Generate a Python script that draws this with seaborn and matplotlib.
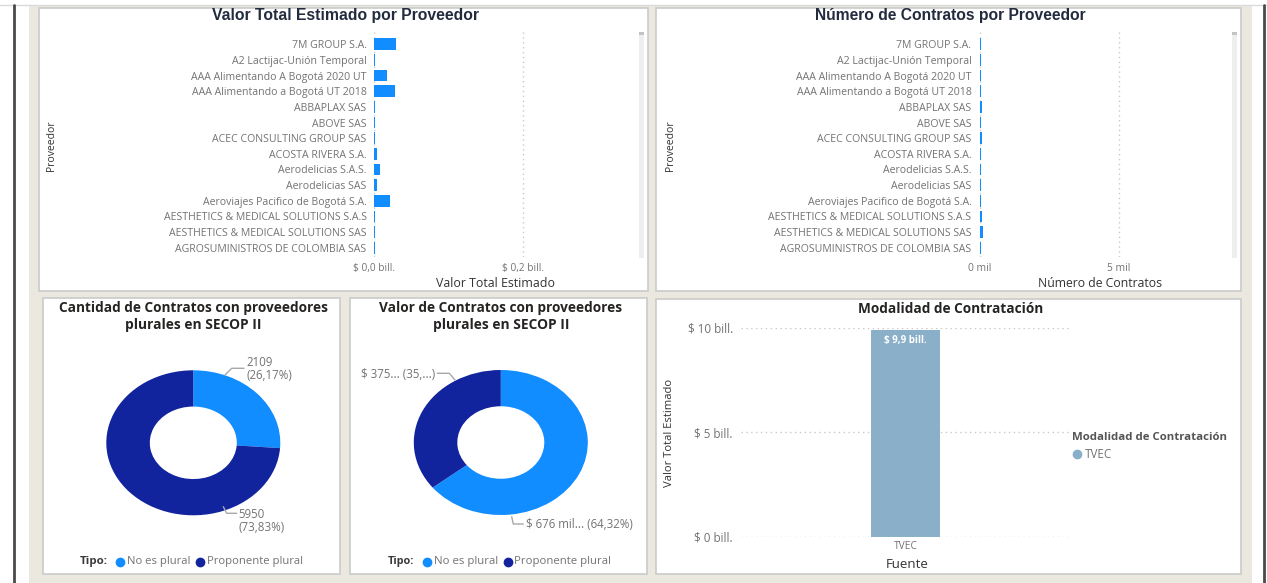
import matplotlib
matplotlib.use("Agg")
import matplotlib.pyplot as plt
from matplotlib.patches import Rectangle
from matplotlib.lines import Line2D
import seaborn as sns
import numpy as np

# ---------------- data ----------------
proveedores = [
    "7M GROUP S.A.", "A2 Lactijac-Unión Temporal", "AAA Alimentando A Bogotá 2020 UT",
    "AAA Alimentando a Bogotá UT 2018", "ABBAPLAX SAS", "ABOVE SAS",
    "ACEC CONSULTING GROUP SAS", "ACOSTA RIVERA S.A.", "Aerodelicias S.A.S.",
    "Aerodelicias SAS", "Aeroviajes Pacifico de Bogotá S.A.",
    "AESTHETICS & MEDICAL SOLUTIONS S.A.S", "AESTHETICS & MEDICAL SOLUTIONS SAS",
    "AGROSUMINISTROS DE COLOMBIA SAS",
]
valor_bill = [0.0292, 0.0012, 0.0176, 0.0288, 0.0014, 0.0012, 0.0013,
              0.0037, 0.0085, 0.0037, 0.0218, 0.0013, 0.0013, 0.0012]
num_contratos = [40, 40, 40, 45, 55, 45, 90, 40, 40, 40, 50, 75, 115, 40]

tipos = ["No es plural", "Proponente plural"]
cantidad_tipo = [2109, 5950]
valor_tipo_mil = [676, 375]
valor_tipo_labels = ["$ 676 mil... (64,32%)", "$ 375... (35,...)"]

modalidad = ["TVEC"]
modalidad_valor_bill = [9.9]

val_ticks = [0.0, 0.2]
val_ticklabels = ["$ 0,0 bill.", "$ 0,2 bill."]
num_ticks = [0, 5000]
num_ticklabels = ["0 mil", "5 mil"]
mod_ticks = [0, 5, 10]
mod_ticklabels = ["$ 0 bill.", "$ 5 bill.", "$ 10 bill."]

# ---------------- styling ----------------
BLUE = "#118DFF"
NAVY = "#12239E"
STEEL = "#89AFC9"
BEIGE = "#EBE8DF"
GRAY_TXT = "#737373"
DARK_TXT = "#333333"
TITLE_NAVY = "#232B3E"
SANS = ["Open Sans", "DejaVu Sans"]

sns.set_theme(style="white")
plt.rcParams["font.family"] = SANS

W, H = 1267, 583
fig = plt.figure(figsize=(W / 100, H / 100), dpi=100)
fig.patch.set_facecolor("white")
renderer = fig.canvas.get_renderer()


def fx(x):
    return x / W


def fy(y):
    return 1 - y / H


def add_ax(x0, y0, x1, y1):
    return fig.add_axes([fx(x0), fy(y1), (x1 - x0) / W, (y1 - y0) / H])


def fit_size(s, width, family=SANS, weight="normal"):
    t = fig.text(0, 0, s, fontsize=10, family=family, weight=weight)
    w = t.get_window_extent(renderer=renderer).width
    t.remove()
    return 10 * width / w


def ftext(x, y, s, width, ha="center", va="center", family=SANS, weight="normal", color=DARK_TXT, **kw):
    size = fit_size(s, width, family, weight)
    return fig.text(fx(x), fy(y), s, ha=ha, va=va, fontsize=size, family=family,
                    weight=weight, color=color, **kw)


def rect(x0, y0, x1, y1, **kw):
    r = Rectangle((fx(x0), fy(y1)), (x1 - x0) / W, (y1 - y0) / H, transform=fig.transFigure, **kw)
    fig.add_artist(r)
    return r


def fline(xs, ys, **kw):
    fig.add_artist(Line2D([fx(x) for x in xs], [fy(y) for y in ys], transform=fig.transFigure, **kw))


# ---------------- background / frame ----------------
rect(29, 5, 1252, 583, facecolor=BEIGE, edgecolor="none", zorder=-5)
fline([0, W], [5, 5], color="#DADADA", lw=1, zorder=-4)
fline([14, 14], [5, 583], color="#4A4A4A", lw=2, zorder=-4)
fline([1264, 1264], [5, 583], color="#4A4A4A", lw=2, zorder=-4)

panels = [(38.7, 8.3, 647.6, 291), (655.7, 8.3, 1241.3, 291),
          (43, 298.3, 340.4, 574), (350.3, 298.3, 646.8, 574),
          (655.8, 299.3, 1241, 574)]
for p in panels:
    rect(*p, facecolor="white", edgecolor="#CBCBCB", lw=1.2, zorder=-3)

cat_size = fit_size("AESTHETICS & MEDICAL SOLUTIONS S.A.S", 203)
dot_style = (0, (1, 2.5))


def hbar_panel(x_zero, px_per_unit, x_right, values, ticks, ticklabels, tick_w, title, title_x,
               title_w, xlabel, xlabel_x, xlabel_w, ylabel_x, label_right):
    y_top, y_bot = 31.7, 256.7
    ax = add_ax(x_zero, y_top, x_right, y_bot)
    sns.barplot(x=values, y=proveedores, orient="h", color=BLUE, saturation=1,
                width=0.75, linewidth=0, ax=ax)
    ax.set_xlim(0, (x_right - x_zero) / px_per_unit)
    row = 15.64
    ax.set_ylim(13 + (y_bot - 247.7) / row, -(44.3 - y_top) / row)
    ax.set_xticks(ticks)
    ax.set_xticklabels(ticklabels)
    tsize = fit_size(ticklabels[0], tick_w)
    ax.tick_params(axis="x", length=0, pad=(268.3 - y_bot) * 0.72, labelsize=tsize, labelcolor=GRAY_TXT)
    for lab in ax.get_xticklabels():
        lab.set_va("center")
    ax.tick_params(axis="y", length=0, pad=(x_zero - label_right) * 0.72, labelsize=cat_size,
                   labelcolor=GRAY_TXT)
    for s in ax.spines.values():
        s.set_visible(False)
    ax.grid(axis="x", color="#C9C9C9", linestyle=dot_style, lw=1)
    ax.grid(axis="y", visible=False)
    ax.set_axisbelow(True)
    ax.set_facecolor("none")
    ax.set_xlabel(xlabel, fontsize=fit_size(xlabel, xlabel_w), color=DARK_TXT)
    ax.xaxis.set_label_coords(fx(xlabel_x), fy(283.7), transform=fig.transFigure)
    ax.xaxis.label.set_va("center")
    ax.set_ylabel("Proveedor", fontsize=fit_size("Proveedor", 50), color=DARK_TXT)
    ax.yaxis.set_label_coords(fx(ylabel_x), fy(145.7), transform=fig.transFigure)
    ax.yaxis.label.set_va("center")
    ax.yaxis.label.set_ha("center")
    ftext(title_x, 15.7, title, title_w, family=["Liberation Sans", "DejaVu Sans"], weight="bold",
          color=TITLE_NAVY)
    # scrollbar
    sb_x = x_right + 4
    rect(sb_x, 31.7, sb_x + 5, 258, facecolor="#EEEEEE", edgecolor="none")
    rect(sb_x, 31.7, sb_x + 5, 35, facecolor="#C4C4C4", edgecolor="none")
    return ax


hbar_panel(374.0, 148.5 / 0.2, 635, valor_bill, val_ticks, val_ticklabels, 42,
           "Valor Total Estimado por Proveedor", 345, 266,
           "Valor Total Estimado", 495.6, 119, 51.7, 366.5)
hbar_panel(980.0, 138.8 / 5000, 1228, num_contratos, num_ticks, num_ticklabels, 23.4,
           "Número de Contratos por Proveedor", 950.5, 272,
           "Número de Contratos", 1099.7, 124.7, 670, 971.5)


# ---------------- donut panels ----------------
def fmt_pct(v):
    return f"{v:.2f}".replace(".", ",") + "%"


def donut(cx, cy, values, title1, title2, title_x, t1w, t2w, legend_x):
    rx, ry = 87, 72.5
    ax = add_ax(cx - rx, cy - ry, cx + rx, cy + ry)
    ax.pie(values, colors=[BLUE, NAVY], startangle=90, counterclock=False,
           wedgeprops=dict(width=0.5, linewidth=0))
    ax.set_aspect("auto")
    ax.set_xlim(-1, 1)
    ax.set_ylim(-1, 1)
    ax.axis("off")
    ftext(title_x, 308.3, title1, t1w, weight="bold", color="#252423")
    ftext(title_x, 325, title2, t2w, weight="bold", color="#252423")
    # legend
    lx = legend_x
    ftext(lx[0], 561.7, "Tipo:", lx[1], ha="left", weight="bold", color="#3A3A3A")
    for (dx, tx, tw), name, col in zip(lx[2], tipos, [BLUE, NAVY]):
        fig.add_artist(Line2D([fx(dx)], [fy(561.7)], marker="o", ms=6, color=col, lw=0,
                              transform=fig.transFigure))
        ftext(tx, 561.7, name, tw, ha="left", color=GRAY_TXT)
    return ax


donut(193.3, 442.8, cantidad_tipo, "Cantidad de Contratos con proveedores", "plurales en SECOP II",
      193.5, 270, 135.6, (79.4, 27.7, [(120.2, 126.9, 63.2), (200, 207.1, 95.7)]))
donut(500.8, 442.5, valor_tipo_mil, "Valor de Contratos con proveedores", "plurales en SECOP II",
      500.8, 244.3, 136, (387.9, 26.4, [(427.4, 434.1, 63.7), (507.7, 514.4, 96.1)]))

LEAD = "#A8A8A8"
tot = sum(cantidad_tipo)
lab_size = fit_size("(26,17%)", 45.7)
fline([225, 231.7, 244], [375, 368.3, 368.3], color=LEAD, lw=1)
fig.text(fx(246.7), fy(362), f"{cantidad_tipo[0]}", fontsize=lab_size, color=GRAY_TXT, va="center")
fig.text(fx(246.7), fy(375.5), f"({fmt_pct(100 * cantidad_tipo[0] / tot)})", fontsize=lab_size,
         color=GRAY_TXT, va="center")
fline([223.3, 226.7, 236.7], [506.7, 513.3, 513.3], color=LEAD, lw=1)
fig.text(fx(238.3), fy(514), f"{cantidad_tipo[1]}", fontsize=lab_size, color=GRAY_TXT, va="center")
fig.text(fx(238.3), fy(527.5), f"({fmt_pct(100 * cantidad_tipo[1] / tot)})", fontsize=lab_size,
         color=GRAY_TXT, va="center")

fline([437.3, 449.3, 455], [373.3, 373.3, 380], color=LEAD, lw=1)
fig.text(fx(435.5), fy(374.5), valor_tipo_labels[1], fontsize=lab_size, color=GRAY_TXT,
         va="center", ha="right")
fline([511.7, 513.3, 523.3], [516.7, 524, 524], color=LEAD, lw=1)
fig.text(fx(526), fy(524), valor_tipo_labels[0], fontsize=lab_size, color=GRAY_TXT,
         va="center", ha="left")

# ---------------- Modalidad panel ----------------
x0, x1, ytop, ybot = 741.4, 1069.5, 327.7, 537
ax5 = add_ax(x0, ytop, x1, ybot)
sns.barplot(x=modalidad, y=modalidad_valor_bill, color=STEEL, saturation=1, width=0.211,
            linewidth=0, ax=ax5)
ax5.set_xlim(-0.5, 0.5)
ax5.set_ylim(0, 10)
ax5.set_yticks(mod_ticks)
ax5.set_yticklabels(mod_ticklabels)
ax5.tick_params(axis="y", length=0, pad=(x0 - 732.9) * 0.72,
                labelsize=fit_size("$ 10 bill.", 45), labelcolor=GRAY_TXT)
ax5.tick_params(axis="x", length=0, pad=(546.7 - ybot) * 0.72,
                labelsize=fit_size("TVEC", 24), labelcolor=GRAY_TXT)
for lab in ax5.get_xticklabels():
    lab.set_va("center")
for s in ax5.spines.values():
    s.set_visible(False)
ax5.grid(axis="y", color="#C9C9C9", linestyle=dot_style, lw=1)
ax5.grid(axis="x", visible=False)
ax5.set_axisbelow(True)
ax5.set_facecolor("none")
ax5.set_xlabel("Fuente", fontsize=fit_size("Fuente", 42.8), color=DARK_TXT)
ax5.xaxis.set_label_coords(fx(907), fy(565), transform=fig.transFigure)
ax5.xaxis.label.set_va("center")
ax5.set_ylabel("Valor Total Estimado", fontsize=fit_size("Valor Total Estimado", 108), color=DARK_TXT)
ax5.yaxis.set_label_coords(fx(669.5), fy(433.3), transform=fig.transFigure)
ax5.yaxis.label.set_va("center")
ax5.yaxis.label.set_ha("center")
for i, v in enumerate(modalidad_valor_bill):
    txt = "$ " + f"{v:.1f}".replace(".", ",") + " bill."
    ax5.annotate(txt, xy=(i, v), xytext=(0, -(340.5 - 329.3) * 0.72), textcoords="offset points",
                 ha="center", va="center", color="white", weight="bold",
                 fontsize=fit_size(txt, 42.7, weight="bold"))
ax5.patches[0].set_clip_on(False)

ftext(951, 309, "Modalidad de Contratación", 185.6, weight="bold", color="#252423")
ftext(1072.2, 437.7, "Modalidad de Contratación", 155, ha="left", weight="bold", color="#555555")
fig.add_artist(Line2D([fx(1076.8)], [fy(454)], marker="o", ms=6, color=STEEL, lw=0,
                      transform=fig.transFigure))
ftext(1084.6, 454, modalidad[0], 27, ha="left", color=GRAY_TXT)

fig.savefig("out.png", dpi=100)
